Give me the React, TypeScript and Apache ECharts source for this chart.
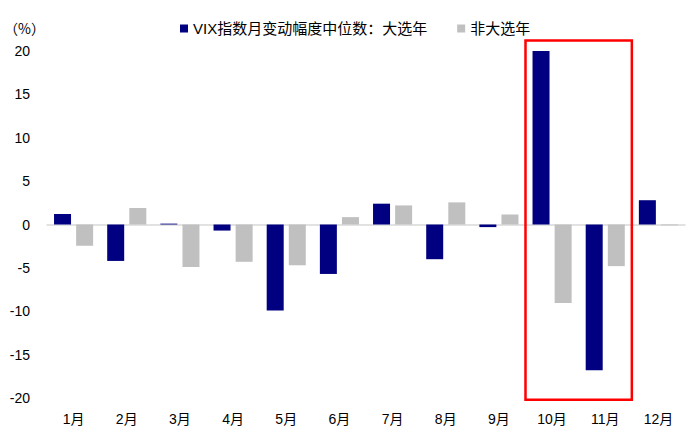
import React, { useEffect, useRef } from "react";
import * as echarts from "echarts";

const categories = ["1月", "2月", "3月", "4月", "5月", "6月", "7月", "8月", "9月", "10月", "11月", "12月"];
const electionYear = [1.2, -4.2, 0.1, -0.7, -9.9, -5.7, 2.4, -4.0, -0.3, 20.1, -16.8, 2.8];
const nonElectionYear = [-2.45, 1.9, -4.9, -4.3, -4.7, 0.85, 2.2, 2.55, 1.15, -9.05, -4.8, -0.1];
const seriesNames = ["VIX指数月变动幅度中位数：大选年", "非大选年"];
const highlightRange = ["10月", "11月"];
const highlightValues = [21.2, -20.2];

const FONT = "'Liberation Sans', Arial, 'Noto Sans CJK SC', sans-serif";
const CJK_FONT = "'Noto Sans CJK SC', sans-serif";

export default function App() {
  const ref = useRef<HTMLDivElement>(null);
  useEffect(() => {
    document.body.style.margin = "0";
    const chart = echarts.init(ref.current!, null, { renderer: "svg" });
    chart.setOption({
      animation: false,
      backgroundColor: "#ffffff",
      textStyle: { fontFamily: FONT },
      grid: { left: 47, right: 9, top: 51, bottom: 47 },
      legend: {
        left: 175,
        top: 16,
        itemWidth: 8,
        itemHeight: 8,
        itemGap: 30,
        icon: "rect",
        textStyle: { fontSize: 15, color: "#000", fontFamily: FONT },
        data: seriesNames,
      },
      xAxis: {
        type: "category",
        data: categories,
        axisLine: { onZero: true, lineStyle: { color: "#D9D9D9", width: 1.5 } },
        axisTick: { show: false },
        axisLabel: { color: "#000", fontSize: 14, margin: 14, fontFamily: FONT, interval: 0 },
      },
      yAxis: {
        type: "value",
        min: -20,
        max: 20,
        interval: 5,
        name: "（%）",
        nameLocation: "end",
        nameGap: 23,
        nameTextStyle: { color: "#000", fontSize: 14, align: "right", verticalAlign: "middle", padding: [0, 2, 0, 0], fontFamily: CJK_FONT },
        splitLine: { show: false },
        axisLine: { show: false },
        axisTick: { show: false },
        axisLabel: { color: "#000", fontSize: 14, margin: 17, fontFamily: FONT },
      },
      series: [
        {
          name: seriesNames[0],
          type: "bar",
          data: electionYear,
          barWidth: 17,
          barGap: "30%",
          itemStyle: { color: "#000080" },
        },
        {
          name: seriesNames[1],
          type: "bar",
          data: nonElectionYear,
          barWidth: 17,
          barGap: "30%",
          itemStyle: { color: "#C0C0C0" },
        },
      ],
    });
    const x1 = chart.convertToPixel({ xAxisIndex: 0 }, highlightRange[0]) as number;
    const x2 = chart.convertToPixel({ xAxisIndex: 0 }, highlightRange[1]) as number;
    const band = x2 - x1;
    const yTop = chart.convertToPixel({ yAxisIndex: 0 }, highlightValues[0]) as number;
    const yBot = chart.convertToPixel({ yAxisIndex: 0 }, highlightValues[1]) as number;
    chart.setOption({
      graphic: [
        {
          type: "rect",
          shape: { x: x1 - band / 2, y: yTop, width: band * 2, height: yBot - yTop },
          style: { fill: "none", stroke: "#FF0000", lineWidth: 2.5 },
          z: 100,
        },
      ],
    });
    return () => chart.dispose();
  }, []);
  return <div ref={ref} style={{ width: 694, height: 445 }} />;
}
